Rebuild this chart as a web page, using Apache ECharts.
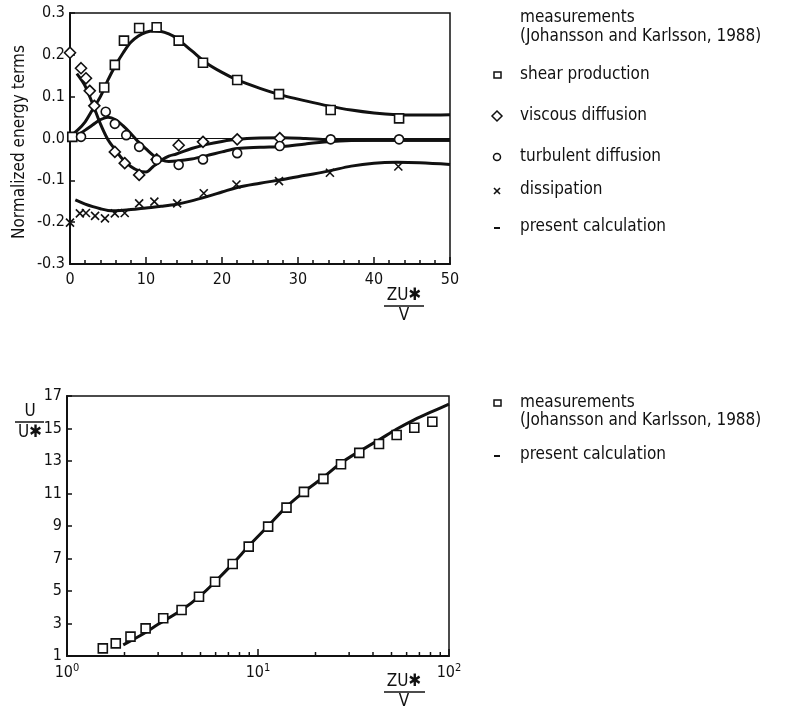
<!DOCTYPE html>
<html>
<head>
<meta charset="utf-8">
<script src="https://cdn.jsdelivr.net/npm/echarts@6/dist/echarts.min.js"></script>
<style>html,body{margin:0;padding:0;background:#fff}#c{width:786px;height:712px}</style>
</head>
<body>
<div id="c"></div>
<script>
// ---------- Top panel data ----------
const shearMeasX = [0.3, 4.5, 5.9, 7.1, 9.1, 11.4, 14.3, 17.5, 22.0, 27.5, 34.3, 43.3];
const shearMeasY = [0.004, 0.122, 0.176, 0.234, 0.264, 0.266, 0.234, 0.181, 0.140, 0.106, 0.068, 0.048];
const viscMeasX = [0, 1.45, 2.1, 2.6, 3.2, 5.9, 7.2, 9.1, 11.4, 14.3, 17.5, 22.0, 27.6];
const viscMeasY = [0.205, 0.168, 0.144, 0.114, 0.078, -0.032, -0.059, -0.087, -0.050, -0.016, -0.008, -0.002, 0.001];
const turbMeasX = [1.45, 4.7, 5.9, 7.4, 9.1, 11.4, 14.3, 17.5, 22.0, 27.6, 34.3, 43.3];
const turbMeasY = [0.004, 0.064, 0.035, 0.008, -0.020, -0.051, -0.063, -0.050, -0.035, -0.018, -0.002, -0.002];
const dissMeasX = [0, 1.3, 2.1, 3.3, 4.6, 5.9, 7.2, 9.1, 11.1, 14.1, 17.6, 21.9, 27.5, 34.2, 43.2];
const dissMeasY = [-0.201, -0.179, -0.178, -0.185, -0.191, -0.179, -0.178, -0.155, -0.151, -0.155, -0.131, -0.110, -0.102, -0.082, -0.067];

const shearCalcX = [0, 1, 2, 3, 4, 5, 6, 7, 8, 9, 10, 11, 12, 13, 14, 16, 18, 20, 22, 25, 28, 31, 34, 37, 40, 43, 46, 50];
const shearCalcY = [0.005, 0.02, 0.04, 0.07, 0.10, 0.14, 0.175, 0.205, 0.23, 0.245, 0.254, 0.257, 0.256, 0.25, 0.24, 0.21, 0.18, 0.158, 0.14, 0.12, 0.103, 0.09, 0.078, 0.068, 0.061, 0.057, 0.056, 0.057];
const viscCalcX = [0.9, 1.5, 2, 3, 4, 5, 6, 7, 8, 9, 10, 11, 12, 13, 14, 16, 18, 20, 22, 25, 28, 31, 34, 40, 45, 50];
const viscCalcY = [0.155, 0.14, 0.125, 0.082, 0.035, -0.003, -0.028, -0.051, -0.067, -0.077, -0.080, -0.066, -0.052, -0.042, -0.037, -0.024, -0.014, -0.007, -0.002, 0.001, 0.002, 0.0, -0.003, -0.004, -0.004, -0.004];
const turbCalcX = [0, 1, 2, 3, 4, 5, 6, 7, 8, 9, 10, 11, 12, 13, 14, 16, 18, 20, 22, 25, 28, 31, 34, 37, 40, 45, 50];
const turbCalcY = [0.0, 0.008, 0.02, 0.033, 0.045, 0.051, 0.045, 0.03, 0.012, -0.008, -0.025, -0.041, -0.051, -0.055, -0.054, -0.049, -0.041, -0.032, -0.024, -0.021, -0.019, -0.013, -0.008, -0.005, -0.004, -0.004, -0.004];
const dissCalcX = [0.7, 2, 3, 4, 5, 6, 8, 10, 12, 14, 16, 18, 20, 22, 25, 28, 31, 34, 37, 40, 43, 46, 50];
const dissCalcY = [-0.147, -0.157, -0.163, -0.168, -0.172, -0.173, -0.170, -0.166, -0.162, -0.157, -0.149, -0.139, -0.128, -0.117, -0.107, -0.098, -0.088, -0.078, -0.066, -0.059, -0.057, -0.058, -0.062];

// ---------- Bottom panel data ----------
const velMeasX = [1.54, 1.80, 2.15, 2.58, 3.19, 3.98, 4.91, 5.96, 7.37, 8.94, 11.3, 14.1, 17.4, 22.0, 27.2, 33.9, 43.0, 53.2, 65.8, 81.8];
const velMeasY = [1.47, 1.78, 2.19, 2.70, 3.32, 3.83, 4.65, 5.57, 6.66, 7.73, 8.96, 10.13, 11.1, 11.9, 12.8, 13.5, 14.05, 14.6, 15.05, 15.42];
const velCalcX = [1.97, 2.5, 3, 4, 5, 6, 7.4, 9, 11.3, 14, 17.4, 22, 27, 34, 43, 53, 66, 82, 100];
const velCalcY = [1.68, 2.35, 2.95, 3.85, 4.72, 5.6, 6.7, 7.8, 9.0, 10.15, 11.1, 12.0, 12.85, 13.6, 14.3, 14.95, 15.55, 16.05, 16.5];

// ---------- Axis ticks ----------
const topXTicks = [0, 10, 20, 30, 40, 50];
const topYMin = -0.3, topYMax = 0.3, topYStep = 0.1;
const botYMin = 1, botYMax = 17, botYStep = 2;
const botXMin = 1, botXMax = 100;
const logMinorTicks = [2, 3, 4, 5, 6, 7, 8, 9, 20, 30, 40, 50, 60, 70, 80, 90];

const legendTop = ['shear production', 'viscous diffusion', 'turbulent diffusion', 'dissipation', 'present calculation'];

const zip = (a, b) => a.map((v, i) => [v, b[i]]);
const FONT = '"DejaVu Sans Condensed", "DejaVu Sans", sans-serif';
const BLACK = '#111';
const crossPath = 'path://M0,0L10,10M10,0L0,10';

function meas(name, xs, ys, symbol, size, gi) {
  return {
    type: 'scatter', name, xAxisIndex: gi, yAxisIndex: gi, data: zip(xs, ys),
    symbol, symbolSize: size, z: 5,
    itemStyle: { color: symbol === crossPath ? 'none' : '#fff', borderColor: BLACK, borderWidth: 1.6, opacity: 1 },
    emphasis: { disabled: true }
  };
}
function calc(name, xs, ys, gi, extra) {
  return Object.assign({
    type: 'line', name, xAxisIndex: gi, yAxisIndex: gi, data: zip(xs, ys),
    smooth: 0.35, showSymbol: false, symbol: 'none', z: 4,
    lineStyle: { color: BLACK, width: 3 }
  }, extra || {});
}

const axisLine = { show: true, onZero: false, lineStyle: { color: BLACK, width: 2 } };
const lbl = { color: BLACK, fontFamily: FONT, fontSize: 16 };
const F = '17px ' + FONT;

const chart = echarts.init(document.getElementById('c'), null, { renderer: 'canvas' });
const option = {
  backgroundColor: '#fff',
  animation: false,
  grid: [
    { left: 70, top: 13, width: 380, height: 251, show: true, borderColor: BLACK, borderWidth: 1.5, backgroundColor: 'transparent' },
    { left: 67, top: 396, width: 382, height: 260, show: true, borderColor: BLACK, borderWidth: 1.5, backgroundColor: 'transparent' }
  ],
  xAxis: [
    { type: 'value', gridIndex: 0, min: topXTicks[0], max: topXTicks[topXTicks.length - 1], interval: 10,
      axisLine, splitLine: { show: false },
      axisTick: { show: true, inside: true, length: 7, lineStyle: { color: BLACK, width: 1.5 } },
      minorTick: { show: true, splitNumber: 5, length: 4, lineStyle: { color: BLACK, width: 1.5 } },
      axisLabel: Object.assign({ margin: 8 }, lbl) },
    { type: 'log', logBase: 10, gridIndex: 1, min: botXMin, max: botXMax,
      axisLine, splitLine: { show: false },
      axisTick: { show: true, inside: true, length: 7, lineStyle: { color: BLACK, width: 1.5 } },
      axisLabel: {
        margin: 5, color: BLACK, fontFamily: FONT,
        formatter: v => '{b|10}{s|' + Math.round(Math.log10(v)) + '}',
        rich: {
          b: { fontSize: 16, fontFamily: FONT, color: BLACK, verticalAlign: 'bottom', lineHeight: 20 },
          s: { fontSize: 11, fontFamily: FONT, color: BLACK, verticalAlign: 'bottom', lineHeight: 20, padding: [0, 0, 7, 0] }
        }
      } }
  ],
  yAxis: [
    { type: 'value', gridIndex: 0, min: topYMin, max: topYMax, interval: topYStep,
      axisLine, splitLine: { show: false },
      axisTick: { show: true, inside: true, length: 5, lineStyle: { color: BLACK, width: 1.5 } },
      axisLabel: Object.assign({ margin: 5, formatter: v => v.toFixed(1) }, lbl) },
    { type: 'value', gridIndex: 1, min: botYMin, max: botYMax, interval: botYStep,
      axisLine, splitLine: { show: false },
      axisTick: { show: true, inside: true, length: 5, lineStyle: { color: BLACK, width: 1.5 } },
      axisLabel: Object.assign({ margin: 5 }, lbl) }
  ],
  series: [
    calc('shear calc', shearCalcX, shearCalcY, 0, {
      markLine: { silent: true, symbol: 'none', label: { show: false },
        lineStyle: { color: BLACK, width: 1, type: 'solid' }, data: [{ yAxis: 0 }] }
    }),
    calc('viscous calc', viscCalcX, viscCalcY, 0),
    calc('turbulent calc', turbCalcX, turbCalcY, 0),
    calc('dissipation calc', dissCalcX, dissCalcY, 0),
    meas(legendTop[0], shearMeasX, shearMeasY, 'rect', 9, 0),
    meas(legendTop[1], viscMeasX, viscMeasY, 'diamond', 11, 0),
    meas(legendTop[2], turbMeasX, turbMeasY, 'circle', 9, 0),
    meas(legendTop[3], dissMeasX, dissMeasY, crossPath, 8, 0),
    calc('velocity calc', velCalcX, velCalcY, 1),
    meas('velocity meas', velMeasX, velMeasY, 'rect', 9, 1),
    { type: 'custom', xAxisIndex: 1, yAxisIndex: 1, silent: true, z: 3,
      data: logMinorTicks.map(v => [v, botYMin]),
      renderItem: (params, api) => {
        const p = api.coord([api.value(0), api.value(1)]);
        return { type: 'line', shape: { x1: p[0], y1: p[1], x2: p[0], y2: p[1] - 4 },
          style: { stroke: BLACK, lineWidth: 1.5 } };
      } }
  ],
  graphic: [
    { type: 'text', x: 20, y: 142, rotation: Math.PI / 2,
      style: { text: 'Normalized energy terms', fill: BLACK, font: F, textAlign: 'center', textVerticalAlign: 'middle' } },
    { type: 'text', x: 404, y: 296, style: { text: 'ZU✱', fill: BLACK, font: F, textAlign: 'center', textVerticalAlign: 'middle' } },
    { type: 'line', shape: { x1: 384, y1: 306, x2: 424, y2: 306 }, style: { stroke: BLACK, lineWidth: 1.5 } },
    { type: 'text', x: 404, y: 316, style: { text: 'V', fill: BLACK, font: F, textAlign: 'center', textVerticalAlign: 'middle' } },
    { type: 'text', x: 404, y: 682, style: { text: 'ZU✱', fill: BLACK, font: F, textAlign: 'center', textVerticalAlign: 'middle' } },
    { type: 'line', shape: { x1: 384, y1: 692, x2: 425, y2: 692 }, style: { stroke: BLACK, lineWidth: 1.5 } },
    { type: 'text', x: 404, y: 702, style: { text: 'V', fill: BLACK, font: F, textAlign: 'center', textVerticalAlign: 'middle' } },
    { type: 'text', x: 30, y: 412, style: { text: 'U', fill: BLACK, font: F, textAlign: 'center', textVerticalAlign: 'middle' } },
    { type: 'line', shape: { x1: 15, y1: 422, x2: 44, y2: 422 }, style: { stroke: BLACK, lineWidth: 1.5 } },
    { type: 'text', x: 30, y: 433, style: { text: 'U✱', fill: BLACK, font: F, textAlign: 'center', textVerticalAlign: 'middle' } },
    { type: 'text', x: 520, y: 18, style: { text: 'measurements', fill: BLACK, font: F, textVerticalAlign: 'middle' } },
    { type: 'text', x: 520, y: 37, style: { text: '(Johansson and Karlsson, 1988)', fill: BLACK, font: F, textVerticalAlign: 'middle' } },
    { type: 'rect', shape: { x: 494, y: 72, width: 7, height: 6 }, style: { fill: '#fff', stroke: BLACK, lineWidth: 1.5 } },
    { type: 'text', x: 520, y: 75, style: { text: legendTop[0], fill: BLACK, font: F, textVerticalAlign: 'middle' } },
    { type: 'polygon', shape: { points: [[497, 111], [502, 116], [497, 121], [492, 116]] }, style: { fill: '#fff', stroke: BLACK, lineWidth: 1.5 } },
    { type: 'text', x: 520, y: 116, style: { text: legendTop[1], fill: BLACK, font: F, textVerticalAlign: 'middle' } },
    { type: 'circle', shape: { cx: 497, cy: 157, r: 3.5 }, style: { fill: '#fff', stroke: BLACK, lineWidth: 1.5 } },
    { type: 'text', x: 520, y: 157, style: { text: legendTop[2], fill: BLACK, font: F, textVerticalAlign: 'middle' } },
    { type: 'polyline', shape: { points: [[494, 188], [500, 194]] }, style: { stroke: BLACK, lineWidth: 1.6 } },
    { type: 'polyline', shape: { points: [[500, 188], [494, 194]] }, style: { stroke: BLACK, lineWidth: 1.6 } },
    { type: 'text', x: 520, y: 190, style: { text: legendTop[3], fill: BLACK, font: F, textVerticalAlign: 'middle' } },
    { type: 'line', shape: { x1: 494, y1: 228, x2: 500, y2: 228 }, style: { stroke: BLACK, lineWidth: 2 } },
    { type: 'text', x: 520, y: 227, style: { text: legendTop[4], fill: BLACK, font: F, textVerticalAlign: 'middle' } },
    { type: 'rect', shape: { x: 494, y: 400, width: 7, height: 6 }, style: { fill: '#fff', stroke: BLACK, lineWidth: 1.5 } },
    { type: 'text', x: 520, y: 403, style: { text: 'measurements', fill: BLACK, font: F, textVerticalAlign: 'middle' } },
    { type: 'text', x: 520, y: 421, style: { text: '(Johansson and Karlsson, 1988)', fill: BLACK, font: F, textVerticalAlign: 'middle' } },
    { type: 'line', shape: { x1: 494, y1: 456, x2: 500, y2: 456 }, style: { stroke: BLACK, lineWidth: 2 } },
    { type: 'text', x: 520, y: 455, style: { text: legendTop[4], fill: BLACK, font: F, textVerticalAlign: 'middle' } }
  ]
};
chart.setOption(option);
</script>
</body>
</html>
